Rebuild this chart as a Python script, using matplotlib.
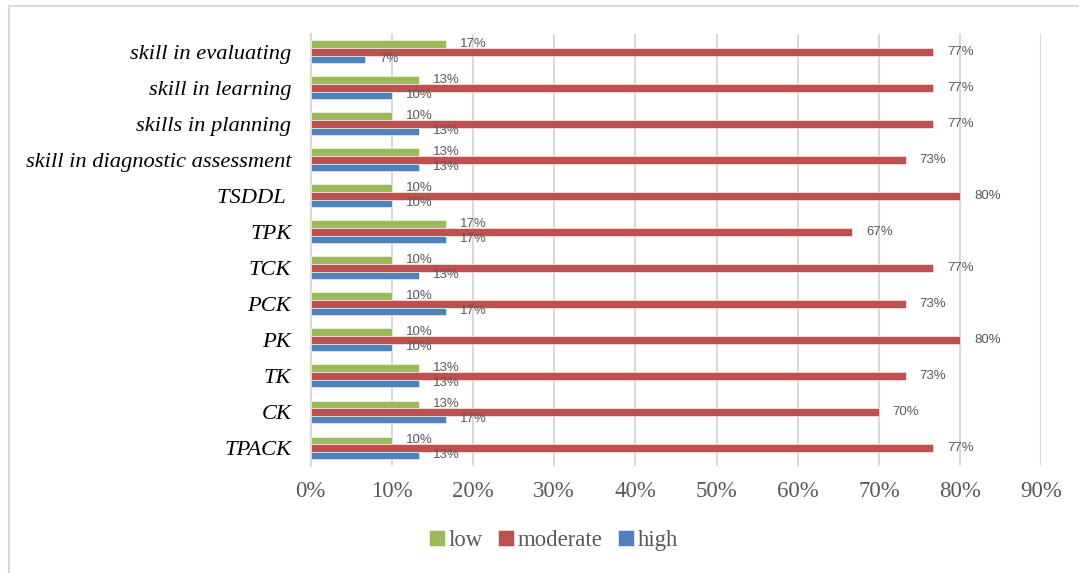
import numpy as np
import matplotlib.pyplot as plt
from matplotlib.lines import Line2D

# Data (top to bottom as shown)
categories = ["skill in evaluating", "skill in learning", "skills in planning",
              "skill in diagnostic assessment", "TSDDL ", "TPK", "TCK", "PCK",
              "PK", "TK", "CK", "TPACK"]
low = [16.7, 13.3, 10.0, 13.3, 10.0, 16.7, 10.0, 10.0, 10.0, 13.3, 13.3, 10.0]
moderate = [76.7, 76.7, 76.7, 73.3, 80.0, 66.7, 76.7, 73.3, 80.0, 73.3, 70.0, 76.7]
high = [6.7, 10.0, 13.3, 13.3, 10.0, 16.7, 13.3, 16.7, 10.0, 13.3, 16.7, 13.3]
series_names = ["low", "moderate", "high"]
colors = ["#9BBB59", "#C0504D", "#4F81BD"]
xticks = [0, 10, 20, 30, 40, 50, 60, 70, 80, 90]

fig = plt.figure(figsize=(10.79, 5.73), dpi=100)
ax = fig.add_axes([0.288, 0.187, 0.677, 0.754])

y = np.arange(len(categories))
h = 0.21
for i, (vals, name, col) in enumerate(zip([low, moderate, high], series_names, colors)):
    pos = y + (i - 1) * h
    ax.barh(pos, vals, height=h, color=col, edgecolor="white", linewidth=0.4, label=name, zorder=3)
    for p, v in zip(pos, vals):
        ax.annotate(f"{v:.0f}%", (v, p), xytext=(10, 0), textcoords="offset points",
                    ha="left", va="center", fontsize=9.5, color="#595959",
                    family="Liberation Sans", zorder=4)

ax.set_xlim(0, 90)
ax.set_ylim(len(categories) - 0.5, -0.5)
ax.set_xticks(xticks)
ax.set_xticklabels([f"{t}%" for t in xticks], family="Liberation Serif", fontsize=16.5, color="#595959")
ax.set_yticks(y)
ax.set_yticklabels(categories, family="Liberation Serif", style="italic", fontsize=16.2, color="black")
ax.tick_params(axis="both", length=0)
ax.tick_params(axis="x", pad=11)
ax.tick_params(axis="y", pad=14)
ax.grid(axis="x", color="#D9D9D9", linewidth=1.5, zorder=0)
for s in ["top", "right", "bottom"]:
    ax.spines[s].set_visible(False)
ax.spines["left"].set_color("#D9D9D9")
ax.spines["left"].set_linewidth(1.5)

leg = fig.legend(loc="center", bbox_to_anchor=(0.513, 0.056), ncol=3, frameon=False,
                 prop={"family": "Liberation Serif", "size": 16.4},
                 handlelength=0.7, handleheight=0.7, handletextpad=0.15, columnspacing=0.7)
for t in leg.get_texts():
    t.set_color("#595959")

# outer chart border (top and left only)
fig.add_artist(Line2D([0.008, 1.0], [0.99, 0.99], transform=fig.transFigure, color="#D9D9D9", linewidth=1.5))
fig.add_artist(Line2D([0.008, 0.008], [0.0, 0.99], transform=fig.transFigure, color="#D9D9D9", linewidth=1.5))

fig.savefig("out.png", dpi=100)
